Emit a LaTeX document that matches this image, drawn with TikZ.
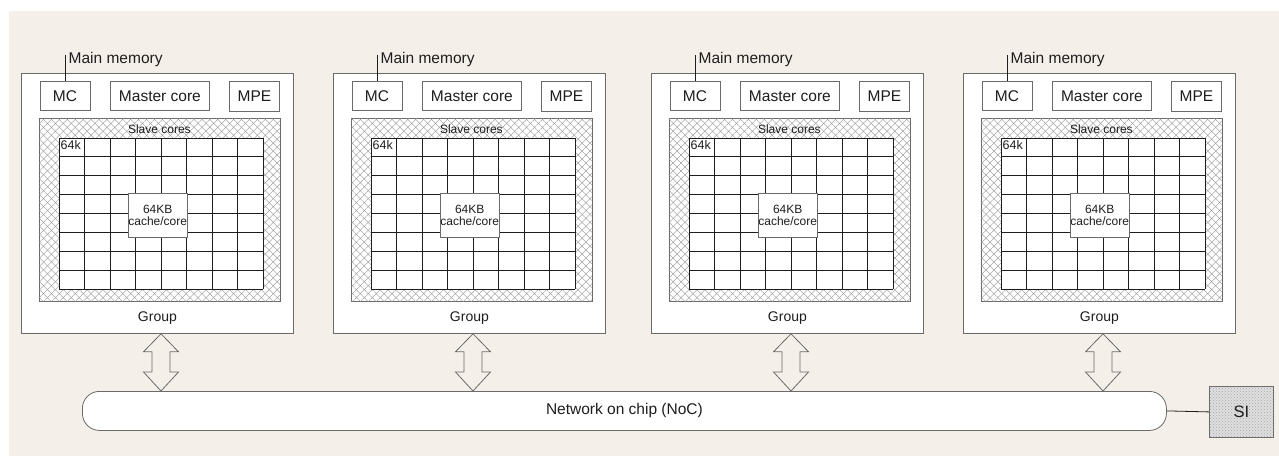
\documentclass[tikz,border=0pt]{standalone}
\usepackage{fontspec}
\setmainfont{Liberation Sans}
\usetikzlibrary{calc,patterns,patterns.meta}

\definecolor{pagebeige}{HTML}{F5EFE9}
\definecolor{boxgray}{HTML}{6A6A6A}
\definecolor{hatchgray}{HTML}{8E8E8E}
\definecolor{inkgray}{HTML}{1E1E1E}

\tikzset{
  unitbox/.style={draw=boxgray, fill=white, line width=0.8pt, inner sep=0pt, text=inkgray},
  hatchbox/.style={draw=boxgray, line width=0.8pt, inner sep=0pt, fill=white,
    postaction={pattern={Lines[angle=45,distance=5.6pt,line width=0.35pt]}, pattern color=hatchgray},
    postaction={pattern={Lines[angle=-45,distance=5.6pt,line width=0.35pt]}, pattern color=hatchgray}},
  dotbox/.style={draw=boxgray, line width=0.8pt, inner sep=0pt, fill=gray!25,
    postaction={pattern=crosshatch dots, pattern color=gray!70}, text=inkgray},
  txt/.style={inner sep=0pt, text=inkgray},
  gridline/.style={draw=inkgray, line width=0.8pt},
  dblarrow/.style={draw=boxgray, line width=0.8pt, line join=miter}
}

\begin{document}
\begin{tikzpicture}[x=1pt,y=-1pt]

\def\bigfont{\fontsize{15.5}{18}\selectfont}
\def\grpfont{\fontsize{14}{16}\selectfont}
\def\smallfont{\fontsize{12}{13.5}\selectfont}

\def\cellw{25.5}
\def\cellh{18.875}

\useasboundingbox (0,0) rectangle (1279,456);
\fill[pagebeige] (9,11) rectangle (1279,456);

% network on chip
\node[unitbox, rounded corners=17pt, minimum width=1084pt, minimum height=39pt,
  anchor=north west, font=\bigfont] (noc) at (82,391) {Network on chip (NoC)};
\node[dotbox, minimum width=64pt, minimum height=51pt, anchor=north west,
  font=\fontsize{16.5}{18}\selectfont] (si) at (1209,386) {SI};
\draw[inkgray, line width=0.8pt] (noc.east) -- (si.west);

% groups
\foreach \n/\L in {1/21, 2/333, 3/651, 4/963} {
  \node[unitbox, minimum width=272pt, minimum height=260pt, anchor=north west] (g\n) at (\L,73) {};
  \node[txt, font=\grpfont] at ($(g\n.south)+(0,-16)$) {Group};

  % top row
  \node[unitbox, minimum width=50pt, minimum height=29pt, anchor=north west, font=\bigfont]
    (mc\n) at (\L+18.5,81) {MC};
  \node[unitbox, minimum width=99pt, minimum height=29pt, anchor=north west, font=\bigfont]
    (master\n) at (\L+89,81) {Master core};
  \node[unitbox, minimum width=50pt, minimum height=30pt, anchor=north west, font=\bigfont]
    (mpe\n) at (\L+208,80.5) {MPE};

  % main memory
  \coordinate (mm\n) at ($(mc\n.north west)+(25.5,-26)$);
  \draw[inkgray, line width=0.8pt] (mm\n) -- (mm\n |- mc\n.north);
  \node[txt, anchor=west, font=\bigfont] at ($(mm\n)+(3.5,4)$) {Main memory};

  % slave cores
  \node[hatchbox, minimum width=241pt, minimum height=183pt, anchor=north west]
    (slave\n) at (\L+17.5,118) {};
  \node[txt, font=\smallfont] at ($(slave\n.north)+(0,11)$) {Slave cores};
  \node[draw=none, fill=white, inner sep=0pt, minimum width=204pt, minimum height=151pt,
    anchor=north west] (grid\n) at (\L+38,138) {};
  \foreach \c in {0,...,8}
    \draw[gridline] ($(grid\n.north west)+(\c*\cellw,0)$) -- ($(grid\n.south west)+(\c*\cellw,0)$);
  \foreach \r in {0,...,8}
    \draw[gridline] ($(grid\n.north west)+(0,\r*\cellh)$) -- ($(grid\n.north east)+(0,\r*\cellh)$);
  \node[txt, anchor=north west, font=\fontsize{12.5}{14}\selectfont] at ($(grid\n.north west)+(1.5,2.5)$) {64k};
  \node[unitbox, minimum width=57pt, minimum height=44pt, align=center, font=\smallfont]
    (cache\n) at ($(grid\n.center)+(-3.5,1.5)$) {64KB\\[-1pt]cache/core};

  % link to the network
  \coordinate (at\n) at ($(g\n.south west)+(140,0)$);
  \coordinate (ab\n) at (at\n |- noc.north);
  \draw[dblarrow]
    (at\n) -- ($(at\n)+(17.5,18)$) -- ($(at\n)+(9,18)$)
    -- ($(ab\n)+(9,-19)$) -- ($(ab\n)+(17.5,-19)$) -- (ab\n)
    -- ($(ab\n)+(-17.5,-19)$) -- ($(ab\n)+(-9,-19)$)
    -- ($(at\n)+(-9,18)$) -- ($(at\n)+(-17.5,18)$) -- cycle;
}

\end{tikzpicture}
\end{document}
